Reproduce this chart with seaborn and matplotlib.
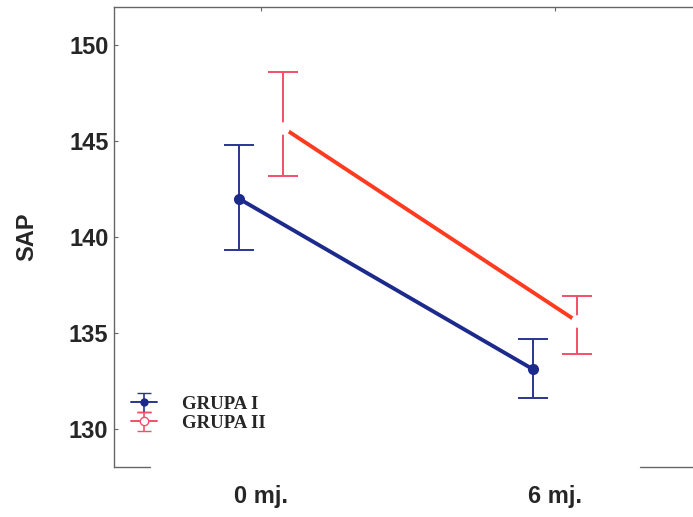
import numpy as np
import pandas as pd
import matplotlib
matplotlib.use("Agg")
import matplotlib.pyplot as plt
import seaborn as sns

# data
time_labels = ["0 mj.", "6 mj."]
groups = ["GRUPA I", "GRUPA II"]
mean_g1 = [142.0, 133.1]
low_g1 = [139.3, 131.6]
high_g1 = [144.8, 134.7]
mean_g2 = [145.7, 135.6]
low_g2 = [143.2, 133.9]
high_g2 = [148.6, 136.9]

line_colors = {"GRUPA I": "#1c2a8c", "GRUPA II": "#ff3b1f"}
err_colors = {"GRUPA I": "#2a3690", "GRUPA II": "#f2506a"}

df = pd.DataFrame({
    "group": np.repeat(groups, 2),
    "t": list(range(2)) * 2,
    "mean": mean_g1 + mean_g2,
    "low": low_g1 + low_g2,
    "high": high_g1 + high_g2,
})
dodge = {"GRUPA I": -0.075, "GRUPA II": 0.075}
df["x"] = df["t"] + df["group"].map(dodge)

sns.set_style("white")
fig = plt.figure(figsize=(6.93, 5.17), dpi=100)
ax = fig.add_axes([114 / 693, 50 / 517, 588 / 693, 460 / 517])

sns.lineplot(data=df, x="x", y="mean", hue="group", palette=line_colors,
             linewidth=2.8, legend=False, ax=ax, zorder=2)

for g in groups:
    sub = df[df["group"] == g]
    yerr = [sub["mean"] - sub["low"], sub["high"] - sub["mean"]]
    ax.errorbar(sub["x"], sub["mean"], yerr=yerr, fmt="none",
                ecolor=err_colors[g], elinewidth=1.4, capsize=11, capthick=1.4, zorder=1)

g1 = df[df["group"] == "GRUPA I"]
g2 = df[df["group"] == "GRUPA II"]
ax.plot(g1["x"], g1["mean"], "o", color=line_colors["GRUPA I"], ms=7, zorder=3)
ax.plot(g2["x"], g2["mean"], "o", mfc="white", mec="white", ms=8, zorder=3)

# legend symbols: little error bars with a marker
leg1 = ax.errorbar([np.nan], [np.nan], yerr=[[1], [1]], fmt="-o", color=err_colors["GRUPA I"],
                   mfc=line_colors["GRUPA I"], mec=line_colors["GRUPA I"], ms=5, lw=1.4,
                   ecolor=err_colors["GRUPA I"], capsize=5, elinewidth=1.2)
leg2 = ax.errorbar([np.nan], [np.nan], yerr=[[1], [1]], fmt="-o", color=err_colors["GRUPA II"],
                   mfc="white", mec=err_colors["GRUPA II"], ms=6, lw=1.4,
                   ecolor=err_colors["GRUPA II"], capsize=5, elinewidth=1.2)

ax.set_xlim(-0.5, 1.5)
ax.set_ylim(128, 152)
ax.set_xticks(range(2))
ax.set_xticklabels(time_labels)
ax.set_yticks([130, 135, 140, 145, 150])
ax.set_xlabel("")
ax.set_ylabel("SAP", fontsize=17, fontweight="bold", family="Liberation Sans", labelpad=22)

for lab in ax.get_xticklabels() + ax.get_yticklabels():
    lab.set_fontsize(17)
    lab.set_fontweight("bold")
    lab.set_family("Liberation Sans")

ax.tick_params(axis="y", direction="in", length=3, width=0.8, left=True, pad=4, color="#666666")
ax.tick_params(axis="x", direction="in", length=3, width=0.8, bottom=False, top=True, pad=13, color="#666666")

for side in ["left", "top"]:
    ax.spines[side].set_color("#666666")
    ax.spines[side].set_linewidth(1.0)
ax.spines["right"].set_visible(False)
ax.spines["bottom"].set_visible(False)
ax.axhline(128, xmin=0, xmax=36 / 588, color="#666666", lw=1.0, clip_on=False)
ax.axhline(128, xmin=526 / 588, xmax=579 / 588, color="#666666", lw=1.0, clip_on=False)

ax.legend([leg1, leg2], groups, loc="lower left", bbox_to_anchor=(0.0, 0.04), frameon=False,
          handlelength=1.4, handletextpad=1.3, labelspacing=0.1,
          prop={"family": "Liberation Serif", "weight": "bold", "size": 13.5})

fig.savefig("out.png", dpi=100)
